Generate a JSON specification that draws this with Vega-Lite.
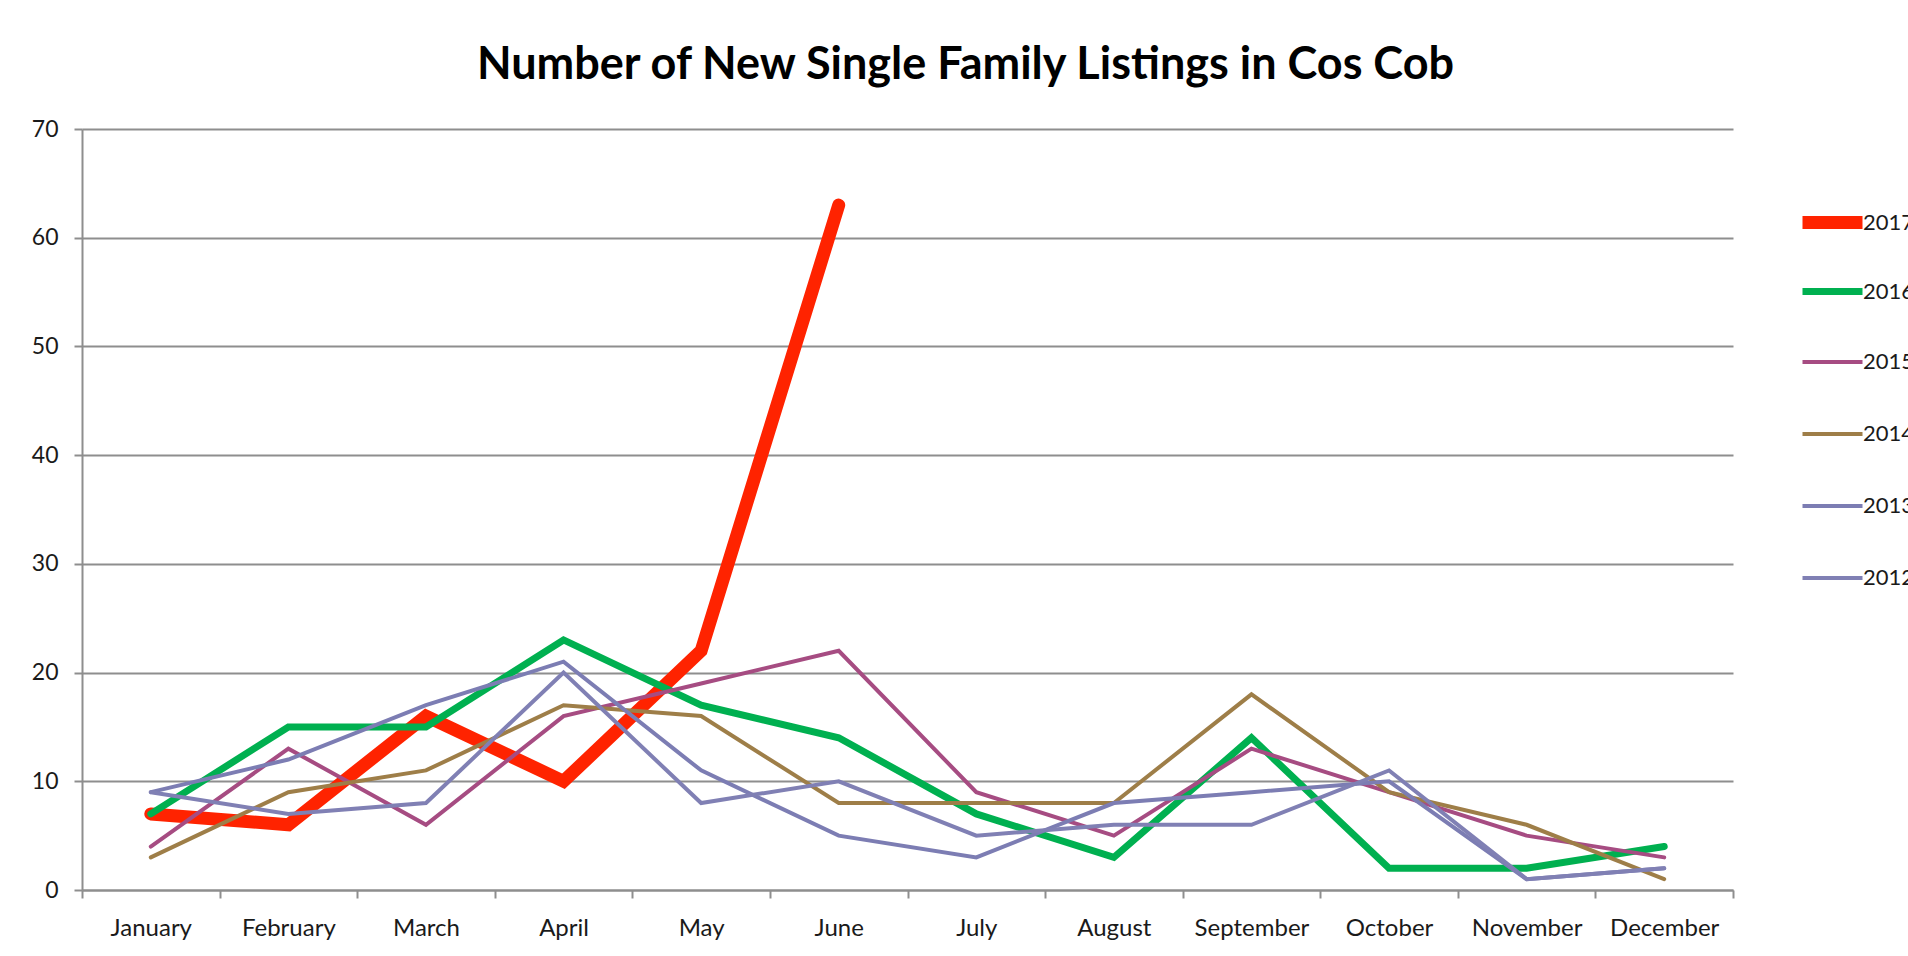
{
  "$schema": "https://vega.github.io/schema/vega-lite/v6.json",
  "width": 1651,
  "height": 761,
  "autosize": {"type": "none"},
  "padding": {"left": 82, "top": 129, "right": 175, "bottom": 66},
  "background": "white",
  "title": {
    "text": "Number of New Single Family Listings in Cos Cob",
    "font": "Lato",
    "fontSize": 45,
    "fontWeight": "bold",
    "color": "#000000",
    "anchor": "middle",
    "frame": "group",
    "baseline": "alphabetic",
    "offset": 49,
    "dx": 58,
    "dy": 55
  },
  "data": {
    "values": [
      {"year": "2017", "month": "January", "value": 7},
      {"year": "2017", "month": "February", "value": 6},
      {"year": "2017", "month": "March", "value": 16},
      {"year": "2017", "month": "April", "value": 10},
      {"year": "2017", "month": "May", "value": 22},
      {"year": "2017", "month": "June", "value": 63},
      {"year": "2016", "month": "January", "value": 7},
      {"year": "2016", "month": "February", "value": 15},
      {"year": "2016", "month": "March", "value": 15},
      {"year": "2016", "month": "April", "value": 23},
      {"year": "2016", "month": "May", "value": 17},
      {"year": "2016", "month": "June", "value": 14},
      {"year": "2016", "month": "July", "value": 7},
      {"year": "2016", "month": "August", "value": 3},
      {"year": "2016", "month": "September", "value": 14},
      {"year": "2016", "month": "October", "value": 2},
      {"year": "2016", "month": "November", "value": 2},
      {"year": "2016", "month": "December", "value": 4},
      {"year": "2015", "month": "January", "value": 4},
      {"year": "2015", "month": "February", "value": 13},
      {"year": "2015", "month": "March", "value": 6},
      {"year": "2015", "month": "April", "value": 16},
      {"year": "2015", "month": "May", "value": 19},
      {"year": "2015", "month": "June", "value": 22},
      {"year": "2015", "month": "July", "value": 9},
      {"year": "2015", "month": "August", "value": 5},
      {"year": "2015", "month": "September", "value": 13},
      {"year": "2015", "month": "October", "value": 9},
      {"year": "2015", "month": "November", "value": 5},
      {"year": "2015", "month": "December", "value": 3},
      {"year": "2014", "month": "January", "value": 3},
      {"year": "2014", "month": "February", "value": 9},
      {"year": "2014", "month": "March", "value": 11},
      {"year": "2014", "month": "April", "value": 17},
      {"year": "2014", "month": "May", "value": 16},
      {"year": "2014", "month": "June", "value": 8},
      {"year": "2014", "month": "July", "value": 8},
      {"year": "2014", "month": "August", "value": 8},
      {"year": "2014", "month": "September", "value": 18},
      {"year": "2014", "month": "October", "value": 9},
      {"year": "2014", "month": "November", "value": 6},
      {"year": "2014", "month": "December", "value": 1},
      {"year": "2013", "month": "January", "value": 9},
      {"year": "2013", "month": "February", "value": 12},
      {"year": "2013", "month": "March", "value": 17},
      {"year": "2013", "month": "April", "value": 21},
      {"year": "2013", "month": "May", "value": 11},
      {"year": "2013", "month": "June", "value": 5},
      {"year": "2013", "month": "July", "value": 3},
      {"year": "2013", "month": "August", "value": 8},
      {"year": "2013", "month": "September", "value": 9},
      {"year": "2013", "month": "October", "value": 10},
      {"year": "2013", "month": "November", "value": 1},
      {"year": "2013", "month": "December", "value": 2},
      {"year": "2012", "month": "January", "value": 9},
      {"year": "2012", "month": "February", "value": 7},
      {"year": "2012", "month": "March", "value": 8},
      {"year": "2012", "month": "April", "value": 20},
      {"year": "2012", "month": "May", "value": 8},
      {"year": "2012", "month": "June", "value": 10},
      {"year": "2012", "month": "July", "value": 5},
      {"year": "2012", "month": "August", "value": 6},
      {"year": "2012", "month": "September", "value": 6},
      {"year": "2012", "month": "October", "value": 11},
      {"year": "2012", "month": "November", "value": 1},
      {"year": "2012", "month": "December", "value": 2}
    ]
  },
  "mark": {"type": "line", "strokeCap": "round", "strokeJoin": "miter"},
  "encoding": {
    "x": {
      "field": "month",
      "type": "ordinal",
      "sort": ["January", "February", "March", "April", "May", "June", "July", "August", "September", "October", "November", "December"],
      "scale": {"type": "band", "paddingInner": 0, "paddingOuter": 0},
      "bandPosition": 0.5,
      "axis": {
        "title": null,
        "tickBand": "extent",
        "ticks": true,
        "tickSize": 8,
        "tickWidth": 2,
        "tickColor": "#8E8E8E",
        "domainColor": "#8E8E8E",
        "domainWidth": 2,
        "grid": false,
        "labelAngle": 0,
        "labelFont": "Lato",
        "labelFontSize": 24,
        "labelColor": "#1a1a1a",
        "labelPadding": 18
      }
    },
    "y": {
      "field": "value",
      "type": "quantitative",
      "scale": {"domain": [0, 70], "nice": false},
      "axis": {
        "title": null,
        "values": [0, 10, 20, 30, 40, 50, 60, 70],
        "grid": true,
        "gridColor": "#8E8E8E",
        "gridWidth": 2,
        "domainColor": "#8E8E8E",
        "domainWidth": 2,
        "tickSize": 8,
        "tickWidth": 2,
        "tickColor": "#8E8E8E",
        "labelFont": "Lato",
        "labelFontSize": 23,
        "labelColor": "#1a1a1a",
        "labelPadding": 16
      }
    },
    "color": {
      "field": "year",
      "type": "nominal",
      "scale": {
        "domain": ["2017", "2016", "2015", "2014", "2013", "2012"],
        "range": ["#FF2300", "#00B050", "#A64C82", "#9E7E48", "#7C7DB3", "#8080B4"]
      },
      "legend": {"title": null}
    },
    "strokeWidth": {
      "field": "year",
      "type": "nominal",
      "scale": {
        "type": "ordinal",
        "domain": ["2017", "2016", "2015", "2014", "2013", "2012"],
        "range": [13, 7, 4, 4, 4, 4]
      },
      "legend": {"title": null}
    }
  },
  "config": {
    "view": {"stroke": null},
    "legend": {
      "orient": "none",
      "legendX": 1714,
      "legendY": 57,
      "gridAlign": "all",
      "symbolType": "stroke",
      "symbolSize": 3600,
      "labelFont": "Lato",
      "labelFontSize": 22,
      "labelColor": "#1a1a1a",
      "labelOffset": -6,
      "rowPadding": 9
    }
  }
}
